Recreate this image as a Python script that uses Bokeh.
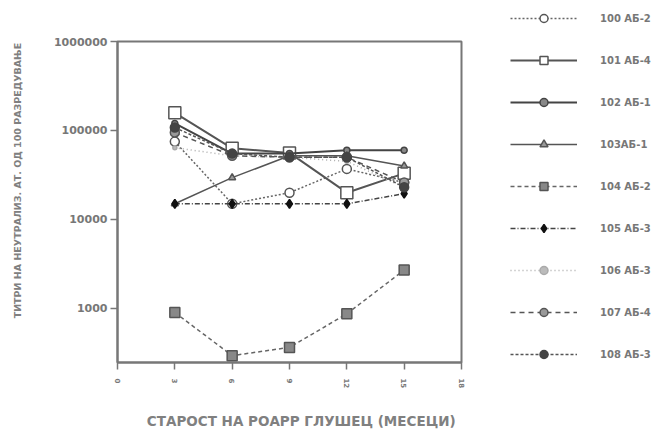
from bokeh.plotting import figure
from bokeh.layouts import row
from bokeh.models import (Range1d, FixedTicker, BasicTickFormatter, Legend, LegendItem)
from bokeh.embed import file_html
from bokeh.resources import INLINE

# ---- data ----
months = [3, 6, 9, 12, 15]
x_ticks = [0, 3, 6, 9, 12, 15, 18]
y_ticks = [1000, 10000, 100000, 1000000]

names = ["100 АБ-2", "101 АБ-4", "102 АБ-1", "103АБ-1", "104 АБ-2",
         "105 АБ-3", "106 АБ-3", "107 АБ-4", "108 АБ-3"]
s100 = [75000, 15000, 20000, 37000, 26000]
s101 = [158000, 63000, 56000, 20000, 33000]
s102 = [120000, 55000, 55000, 60000, 60000]
s103 = [15000, 29500, 52000, 52000, 40000]
s104 = [900, 295, 365, 870, 2700]
s105 = [15000, 15000, 15000, 15000, 19500]
s106 = [64000, 52000, 50000, 45000, 23000]
s107 = [95000, 52000, 50000, 50000, 26000]
s108 = [108000, 55000, 50000, 50000, 23000]

x_title = "СТАРОСТ НА РОАРР ГЛУШЕЦ (МЕСЕЦИ)"
y_title = "ТИТРИ НА НЕУТРАЛИЗ. АТ. ОД 100 РАЗРЕДУВАЊЕ"

series = [s100, s101, s102, s103, s104, s105, s106, s107, s108]
styles = [
    dict(dash="2 2", lc="#666666", lw=1.5, marker="circle", size=9, fill="white", mlc="#555555"),
    dict(dash="solid", lc="#555555", lw=2, marker="square", size=12, fill="white", mlc="#555555"),
    dict(dash="solid", lc="#444444", lw=2, marker="circle", size=6, fill="#888888", mlc="#444444"),
    dict(dash="solid", lc="#555555", lw=1.5, marker="triangle", size=7, fill="#999999", mlc="#555555"),
    dict(dash="4 3", lc="#666666", lw=1.5, marker="square", size=10, fill="#888888", mlc="#555555"),
    dict(dash="5 2 1 2", lc="#444444", lw=1.5, marker="diamond", size=9, fill="#111111", mlc="#111111"),
    dict(dash="1 3", lc="#aaaaaa", lw=1.5, marker="circle", size=4, fill="#bbbbbb", mlc="#aaaaaa"),
    dict(dash="5 4", lc="#555555", lw=1.5, marker="circle", size=9, fill="#999999", mlc="#555555"),
    dict(dash="3 2", lc="#555555", lw=1.5, marker="circle", size=9, fill="#444444", mlc="#444444"),
]

H = 433
NB = "\u00a0"
p = figure(width=481, height=H, output_backend="svg", toolbar_location=None,
           y_axis_type="log",
           x_range=Range1d(0, 18), y_range=Range1d(247, 1000000),
           min_border_left=117, min_border_right=20, min_border_top=41, min_border_bottom=H - 362)
p.frame_align = False
p.background_fill_color = "white"
p.border_fill_color = "white"
p.grid.visible = False
p.outline_line_color = "#777777"
p.outline_line_width = 2

# axes
p.xaxis.ticker = FixedTicker(ticks=x_ticks)
p.yaxis.ticker = FixedTicker(ticks=y_ticks)
p.yaxis.formatter = BasicTickFormatter(use_scientific=False)
for ax in (p.xaxis[0], p.yaxis[0]):
    ax.axis_line_color = "#777777"
    ax.axis_line_width = 2
    ax.major_tick_line_color = "#777777"
    ax.major_tick_line_width = 1.5
    ax.major_tick_in = 0
    ax.minor_tick_line_color = None
    ax.major_label_text_color = "#777777"
    ax.major_label_text_font = "DejaVu Sans"
    ax.major_label_text_font_style = "bold"
    ax.axis_label_text_font = "DejaVu Sans"
    ax.axis_label_text_font_style = "bold"
    ax.axis_label_text_color = "#808080"
p.yaxis.major_tick_out = 7
p.yaxis.major_label_standoff = 3
p.yaxis.major_label_text_font_size = "11px"
p.xaxis.major_tick_out = 7
p.xaxis.major_label_standoff = 9
p.xaxis.major_label_text_font_size = "7px"
p.xaxis.major_label_orientation = "vertical"

p.xaxis.axis_label = NB * 5 + x_title
p.xaxis.axis_label_text_font_size = "13.5px"
p.xaxis.axis_label_standoff = 22
p.yaxis.axis_label = NB * 13 + y_title
p.yaxis.axis_label_text_font_size = "9.5px"
p.yaxis.axis_label_standoff = 28

lf = figure(width=179, height=H, output_backend="svg", toolbar_location=None,
            x_range=Range1d(100, 200), y_range=Range1d(247, 1000000), y_axis_type="log",
            x_axis_location=None, y_axis_location=None,
            min_border_left=0, min_border_right=0, min_border_top=0, min_border_bottom=0)
lf.frame_align = False
lf.grid.visible = False
lf.outline_line_color = None
lf.background_fill_color = "white"
lf.border_fill_color = "white"

items = []
for name, ys, st in zip(names, series, styles):
    for fig in (p, lf):
        r1 = fig.line(months, ys, line_color=st["lc"], line_width=st["lw"], line_dash=st["dash"])
        r2 = fig.scatter(months, ys, marker=st["marker"], size=st["size"], fill_color=st["fill"],
                         line_color=st["mlc"], line_width=1.5)
    items.append(LegendItem(label=name, renderers=[r1, r2]))

legend = Legend(items=items, location=(29, H - 364), glyph_width=67, glyph_height=20,
                label_height=20, spacing=22, padding=0, label_standoff=23,
                border_line_color=None, background_fill_alpha=0,
                label_text_font="DejaVu Sans", label_text_font_style="bold",
                label_text_font_size="10px", label_text_color="#777777")
lf.add_layout(legend, "center")

layout = row(p, lf, spacing=0)
open("out.html", "w").write(file_html(layout, INLINE))
